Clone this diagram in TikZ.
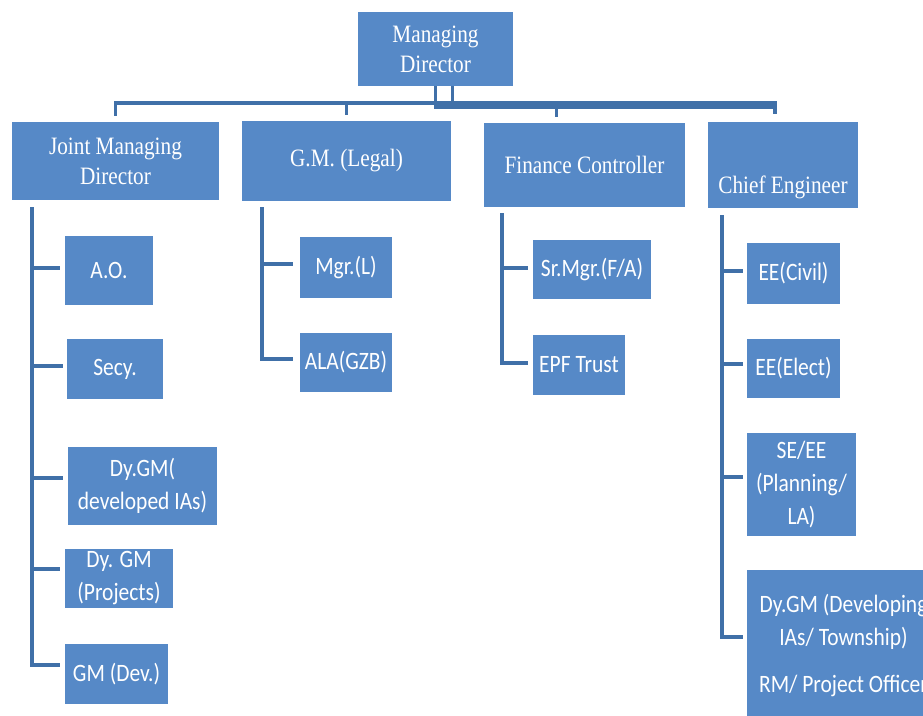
\documentclass[tikz,border=0pt]{standalone}
\usepackage{fontspec}
\newfontfamily\serifc[FakeStretch=0.85]{Liberation Serif}
\newfontfamily\sansc[FakeStretch=0.86]{Carlito}
\definecolor{boxblue}{RGB}{86,137,199}
\definecolor{lineblue}{RGB}{64,112,168}
\begin{document}
\begin{tikzpicture}[x=1pt,y=-1pt,
  topbox/.style={fill=boxblue, text=white, inner sep=0pt, align=center,
    font=\serifc\fontsize{25}{30}\selectfont},
  subbox/.style={fill=boxblue, text=white, inner sep=0pt, align=center,
    font=\sansc\fontsize{25}{33}\selectfont},
  plaintxt/.style={text=white, inner sep=0pt, align=center},
  conn/.style={draw=lineblue, line width=3.5pt}]
\useasboundingbox (0,0) rectangle (923,715);
\clip (0,0) rectangle (923,715);

% top level
\node[topbox, minimum width=155pt, minimum height=74pt] (md) at (435.5,49) {Managing\\Director};
\node[topbox, minimum width=207pt, minimum height=78pt] (jmd) at (115.5,161) {Joint Managing\\Director};
\node[topbox, minimum width=209pt, minimum height=80pt] (gml) at (346.5,161) {G.M. (Legal)};
\node[topbox, minimum width=201pt, minimum height=84pt] (fc) at (584.5,165) {Finance Controller};
\node[topbox, minimum width=150pt, minimum height=86pt] (ce) at (783,165) {};
\node[plaintxt, font=\serifc\fontsize{25}{30}\selectfont] (cetxt) at (783,187) {Chief Engineer};

% JMD children
\node[subbox, minimum width=88pt, minimum height=69pt] (ao) at (109,270.5) {A.O.};
\node[subbox, minimum width=96pt, minimum height=60pt] (secy) at (115,369) {Secy.};
\node[subbox, minimum width=149pt, minimum height=78pt] (dygm) at (142.5,486) {Dy.GM(\\developed IAs)};
\node[subbox, minimum width=108pt, minimum height=59pt] (dygmp) at (119,578.5) {};
\node[plaintxt, font=\sansc\fontsize{25}{33}\selectfont] (dygmptxt) at (119,578.5) {Dy. GM\\(Projects)};
\node[subbox, minimum width=103pt, minimum height=60pt] (gmdev) at (116.5,674) {GM (Dev.)};

% Legal children
\node[subbox, minimum width=92pt, minimum height=61pt] (mgrl) at (346,267.5) {Mgr.(L)};
\node[subbox, minimum width=92pt, minimum height=59pt] (ala) at (346,362.5) {ALA(GZB)};

% Finance children
\node[subbox, minimum width=118pt, minimum height=59pt] (srmgr) at (592,269.5) {Sr.Mgr.(F/A)};
\node[subbox, minimum width=92pt, minimum height=60pt] (epf) at (579,365) {EPF Trust};

% CE children
\node[subbox, minimum width=93pt, minimum height=61pt] (eec) at (793.5,273.5) {EE(Civil)};
\node[subbox, minimum width=93pt, minimum height=59pt] (eee) at (793.5,368.5) {EE(Elect)};
\node[subbox, minimum width=109pt, minimum height=103pt] (seee) at (801.5,484.5) {SE/EE\\(Planning/\\LA)};
\node[subbox, minimum width=193pt, minimum height=150pt] (dygmd) at (843.5,645) {};
\node[plaintxt, font=\sansc\fontsize{25}{33}\selectfont] (dygmdtxt) at (843.5,645) {Dy.GM (Developing\\IAs/ Township)\\[14pt]RM/ Project Officer};

% top connectors
\draw[conn] (md.south) -- ++(0,17) -| ([yshift=6pt]jmd.north);
\draw[conn] (md.south) -- ++(0,17) -| ([yshift=6pt]gml.north);
\draw[conn] (md.south) -- ++(0,17) -| ([xshift=-28pt,yshift=6pt]fc.north);
\draw[conn] (md.south) -- ++(0,17) -| ([xshift=-8pt,yshift=8pt]ce.north);
\draw[conn] (md.south) -- ++(0,21) -| ([xshift=-8pt,yshift=8pt]ce.north);
\draw[conn] ([xshift=17pt]md.south) -- ++(0,19);

% spines
\coordinate (jsp) at ([xshift=20pt,yshift=-7pt]jmd.south west);
\coordinate (lsp) at ([xshift=20pt,yshift=-6pt]gml.south west);
\coordinate (fsp) at ([xshift=18pt,yshift=-6pt]fc.south west);
\coordinate (csp) at ([xshift=14pt,yshift=-7pt]ce.south west);

\draw[conn] (jsp) |- ([xshift=-5pt,yshift=2.5pt]ao.west);
\draw[conn] (jsp) |- ([xshift=-4pt,yshift=3pt]secy.west);
\draw[conn] (jsp) |- ([xshift=-5pt,yshift=8pt]dygm.west);
\draw[conn] (jsp) |- ([xshift=-5pt,yshift=9.5pt]dygmp.west);
\draw[conn] (jsp) |- ([xshift=-5pt,yshift=9pt]gmdev.west);

\draw[conn] (lsp) |- ([xshift=-7pt,yshift=3.5pt]mgrl.west);
\draw[conn] (lsp) |- ([xshift=-7pt,yshift=3.5pt]ala.west);

\draw[conn] (fsp) |- ([xshift=-5pt,yshift=1.5pt]srmgr.west);
\draw[conn] (fsp) |- ([xshift=-5pt,yshift=2pt]epf.west);

\draw[conn] (csp) |- ([xshift=-4pt,yshift=2.5pt]eec.west);
\draw[conn] (csp) |- ([xshift=-4pt,yshift=4.5pt]eee.west);
\draw[conn] (csp) |- ([xshift=-4pt,yshift=7.5pt]seee.west);
\draw[conn] (csp) |- ([xshift=-4pt,yshift=8pt]dygmd.west);
\end{tikzpicture}
\end{document}
